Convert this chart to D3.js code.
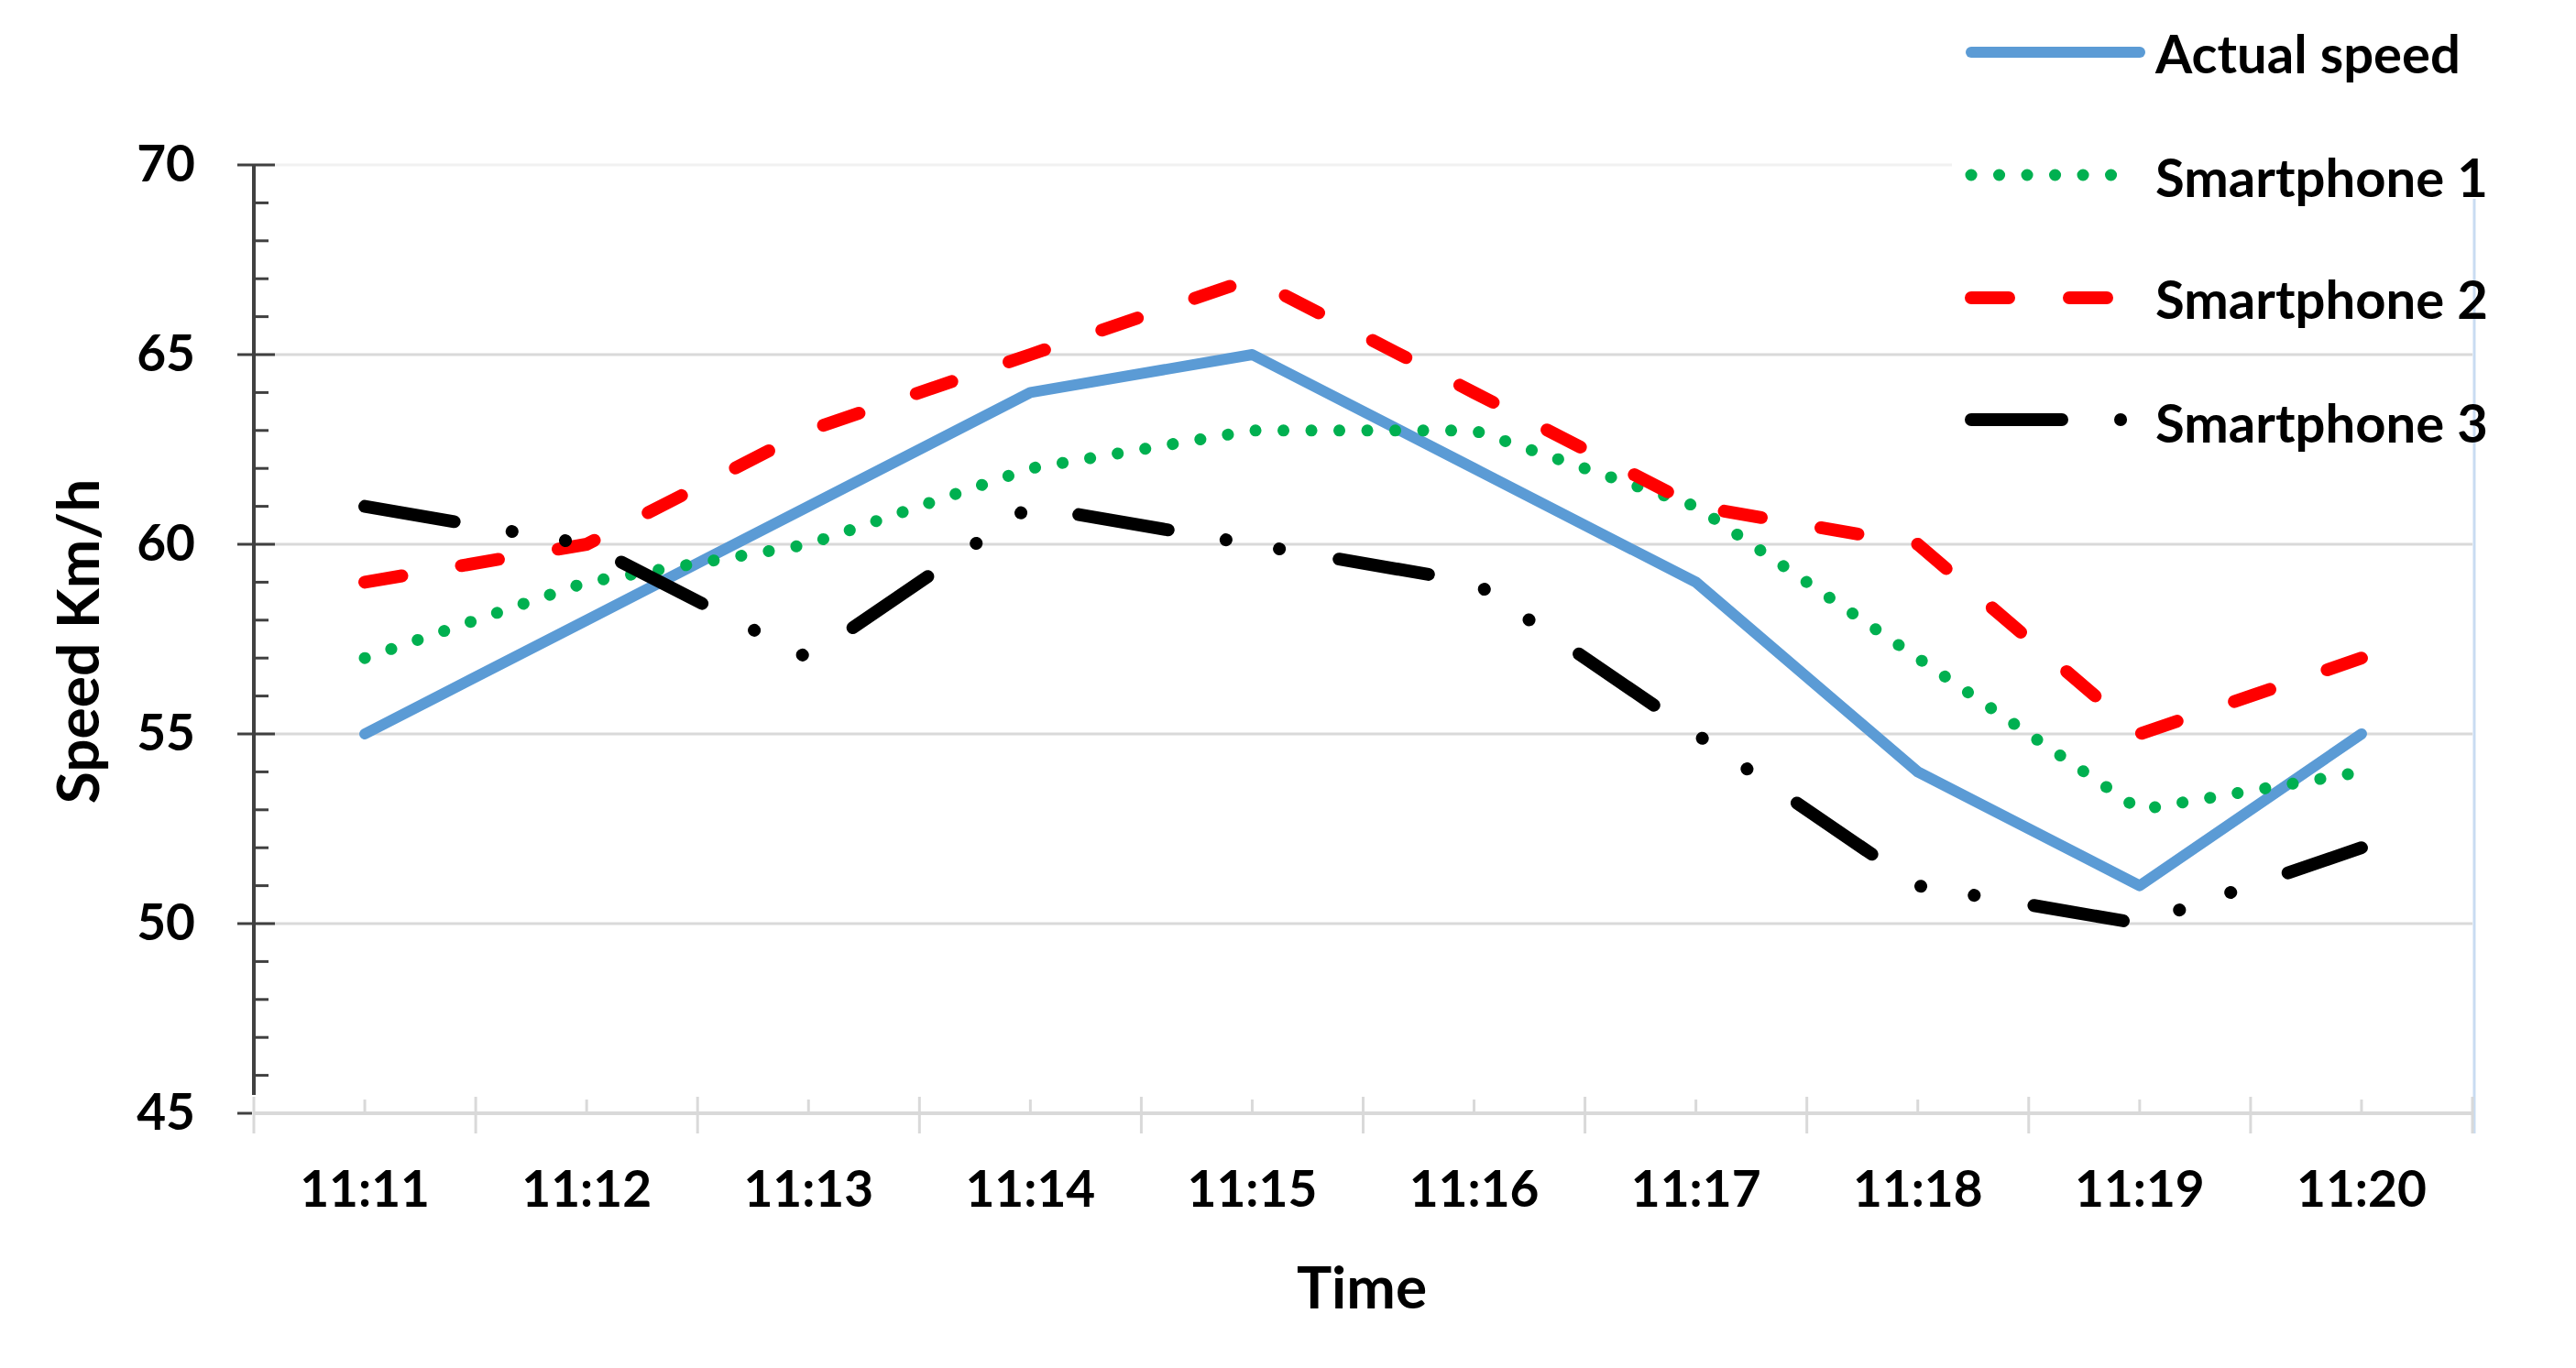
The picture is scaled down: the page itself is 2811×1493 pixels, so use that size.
<!DOCTYPE html>
<html>
<head>
<meta charset="utf-8">
<script src="https://cdn.jsdelivr.net/npm/d3@7"></script>
<style>
  body { margin: 0; background: #ffffff; }
  svg { display: block; }
  text { font-family: Lato, "Open Sans", sans-serif; font-weight: bold; fill: #000; }
</style>
</head>
<body>
<svg id="chart" width="2811" height="1493"></svg>
<script>
// ---------- data ----------
const categories = ["11:11", "11:12", "11:13", "11:14", "11:15", "11:16", "11:17", "11:18", "11:19", "11:20"];
const actualSpeed = [55, 58, 61, 64, 65, 62, 59, 54, 51, 55];
const smartphone1 = [57, 59, 60, 62, 63, 63, 61, 57, 53, 54];
const smartphone2 = [59, 60, 63, 65, 67, 64, 61, 60, 55, 57];
const smartphone3 = [61, 60, 57, 61, 60, 59, 55, 51, 50, 52];
const seriesNames = ["Actual speed", "Smartphone 1", "Smartphone 2", "Smartphone 3"];
const yTickValues = [45, 50, 55, 60, 65, 70];
const yMinorValues = d3.range(45, 71, 1);
const yDomain = [45, 70];
const xTitle = "Time";
const yTitle = "Speed Km/h";

// ---------- styles ----------
const styles = [
  { color: "#5B9BD5", width: 12, dash: null, legendEnd: 2335 },
  { color: "#00B050", width: 13, dash: "0.1 30.4", legendEnd: 2305 },
  { color: "#FF0000", width: 14, dash: "41 66", legendEnd: 2300 },
  { color: "#000000", width: 14, dash: "99 64 0.1 59 0.1 66", legendEnd: 2318 }
];
const seriesValues = [actualSpeed, smartphone1, smartphone2, smartphone3];

const svg = d3.select("#chart");
const plot = { left: 277, right: 2698, top: 180, bottom: 1215 };

const x = d3.scaleBand().domain(categories).range([plot.left, plot.right]).padding(0);
const xc = c => x(c) + x.bandwidth() / 2;
const y = d3.scaleLinear().domain(yDomain).range([plot.bottom, plot.top]);

const gridColor = "#d9d9d9";
const axisColor = "#404040";

// horizontal gridlines
svg.append("g").selectAll("line")
  .data(yTickValues.filter(v => v > 45))
  .join("line")
  .attr("x1", plot.left).attr("x2", d => d === 70 ? 2227 : plot.right)
  .attr("y1", d => y(d)).attr("y2", d => y(d))
  .attr("stroke", d => d === 70 ? "#f1f1f1" : gridColor)
  .attr("stroke-width", 3);

// right border of plot area
svg.append("line")
  .attr("x1", plot.right + 2).attr("x2", plot.right + 2)
  .attr("y1", 217).attr("y2", 1237)
  .attr("stroke", "#c9dcf2").attr("stroke-width", 3);

// x axis baseline
svg.append("line")
  .attr("x1", plot.left).attr("x2", plot.right)
  .attr("y1", y(45)).attr("y2", y(45))
  .attr("stroke", gridColor).attr("stroke-width", 4);

// x axis major ticks (category boundaries)
const boundaries = categories.map(c => x(c)).concat([plot.right]);
svg.append("g").selectAll("line")
  .data(boundaries)
  .join("line")
  .attr("x1", d => d).attr("x2", d => d)
  .attr("y1", y(45) - 18).attr("y2", y(45) + 22)
  .attr("stroke", gridColor).attr("stroke-width", 3);
// x axis minor ticks (category centers)
svg.append("g").selectAll("line")
  .data(categories)
  .join("line")
  .attr("x1", d => xc(d)).attr("x2", d => xc(d))
  .attr("y1", y(45) - 15).attr("y2", y(45))
  .attr("stroke", gridColor).attr("stroke-width", 3);

// x axis labels via d3 axis
const xAxis = svg.append("g")
  .attr("transform", `translate(0,${plot.bottom})`)
  .call(d3.axisBottom(x).tickSize(0).tickPadding(63));
xAxis.select(".domain").remove();
xAxis.selectAll("text").style("font-size", "55px").attr("fill", "#000");

// y axis line
svg.append("line")
  .attr("x1", plot.left).attr("x2", plot.left)
  .attr("y1", y(70)).attr("y2", y(45) - 20)
  .attr("stroke", axisColor).attr("stroke-width", 4);
// y minor ticks
svg.append("g").selectAll("line")
  .data(yMinorValues.filter(v => v % 5 !== 0))
  .join("line")
  .attr("x1", plot.left).attr("x2", plot.left + 16)
  .attr("y1", d => y(d)).attr("y2", d => y(d))
  .attr("stroke", axisColor).attr("stroke-width", 3);
// y major ticks
svg.append("g").selectAll("line")
  .data(yTickValues)
  .join("line")
  .attr("x1", plot.left - 18).attr("x2", d => d === 45 ? plot.left - 2 : plot.left + 23)
  .attr("y1", d => y(d)).attr("y2", d => y(d))
  .attr("stroke", axisColor).attr("stroke-width", 3);

// y axis labels via d3 axis
const yAxis = svg.append("g")
  .attr("transform", `translate(${plot.left},0)`)
  .call(d3.axisLeft(y).tickValues(yTickValues).tickSize(0).tickPadding(64));
yAxis.select(".domain").remove();
yAxis.selectAll("text").style("font-size", "55px").attr("fill", "#000");

// axis titles
svg.append("text")
  .attr("x", 1486).attr("y", 1428)
  .attr("text-anchor", "middle")
  .style("font-size", "64px")
  .text(xTitle);
svg.append("text")
  .attr("transform", "translate(108,700) rotate(-90)")
  .attr("text-anchor", "middle")
  .style("font-size", "64px")
  .text(yTitle);

// series lines
const line = d3.line()
  .x((d, i) => xc(categories[i]))
  .y(d => y(d));

svg.append("g").selectAll("path")
  .data(seriesValues)
  .join("path")
  .attr("d", d => line(d))
  .attr("fill", "none")
  .attr("stroke", (d, i) => styles[i].color)
  .attr("stroke-width", (d, i) => styles[i].width)
  .attr("stroke-dasharray", (d, i) => styles[i].dash)
  .attr("stroke-linecap", "round")
  .attr("stroke-linejoin", "round");

// legend
const legendRows = [57, 191, 325, 458];
const legendTextBase = [80, 215, 348, 483];
const legend = svg.append("g");
legend.append("rect").attr("x", 2130).attr("y", 0).attr("width", 681).attr("height", 215).attr("fill", "#fff");
const legendLine = d3.line();
seriesNames.forEach((name, i) => {
  legend.append("path")
    .attr("d", legendLine([[2151, legendRows[i]], [styles[i].legendEnd, legendRows[i]]]))
    .attr("fill", "none")
    .attr("stroke", styles[i].color)
    .attr("stroke-width", styles[i].width)
    .attr("stroke-dasharray", styles[i].dash)
    .attr("stroke-linecap", "round");
  legend.append("text")
    .attr("x", 2352).attr("y", legendTextBase[i])
    .style("font-size", "58px")
    .text(name);
});
</script>
</body>
</html>
